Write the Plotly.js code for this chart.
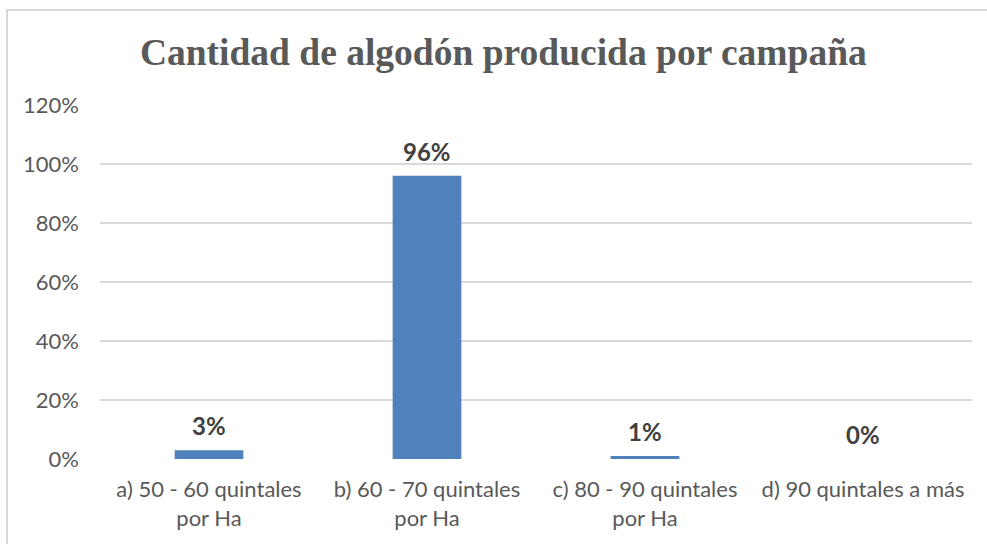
<!DOCTYPE html>
<html>
<head>
<meta charset="utf-8">
<script src="https://cdn.plot.ly/plotly-3.0.1.min.js"></script>
<style>
  html, body { margin: 0; padding: 0; background: #ffffff; }
  #frame { position: absolute; left: 6px; top: 9px; width: 1000px; height: 600px; border: 2px solid #d9d9d9; box-sizing: border-box; }
  #chart { position: absolute; left: 0; top: 0; width: 987px; height: 544px; }
</style>
</head>
<body>
<div id="frame"></div>
<div id="chart"></div>
<script>
const categories = [
  "a) 50 - 60 quintales<br>por Ha",
  "b) 60 - 70 quintales<br>por Ha",
  "c) 80 - 90 quintales<br>por Ha",
  "d) 90 quintales a más"
];
const values = [0.03, 0.96, 0.01, 0.00];
const valueLabels = ["3%", "96%", "1%", "0%"];
const yTicks = [0, 0.2, 0.4, 0.6, 0.8, 1.0, 1.2];
const yTickLabels = ["0%", "20%", "40%", "60%", "80%", "100%", "120%"];

const trace = {
  type: "bar",
  x: categories,
  y: values,
  marker: { color: "#4f81bd" },
  hoverinfo: "none",
  cliponaxis: false
};

const annotations = categories.map((c, i) => ({
  x: c,
  y: values[i],
  xref: "x",
  yref: "y",
  text: "<b>" + valueLabels[i] + "</b>",
  showarrow: false,
  yanchor: "bottom",
  yshift: 8,
  font: { family: "Lato, 'Open Sans', sans-serif", size: 24, color: "#404040" }
}));

const layout = {
  width: 987,
  height: 544,
  paper_bgcolor: "rgba(0,0,0,0)",
  plot_bgcolor: "rgba(0,0,0,0)",
  margin: { l: 100, r: 15, t: 105, b: 85 },
  showlegend: false,
  bargap: 0.685,
  title: {
    text: "<b>Cantidad de algodón producida por campaña</b>",
    font: { family: "'Liberation Serif', 'Times New Roman', serif", size: 37.5, color: "#595959" },
    x: 0.51,
    xanchor: "center",
    y: 0.905,
    yanchor: "middle",
    yref: "container"
  },
  xaxis: {
    type: "category",
    showgrid: false,
    zeroline: false,
    showline: false,
    ticks: "",
    ticklabelstandoff: 15,
    tickfont: { family: "Lato, 'Open Sans', sans-serif", size: 22, color: "#595959" },
    fixedrange: true
  },
  yaxis: {
    range: [0, 1.2],
    tickvals: yTicks,
    ticktext: yTickLabels,
    showgrid: true,
    gridcolor: "#d9d9d9",
    gridwidth: 2,
    zeroline: false,
    showline: false,
    ticks: "",
    ticklabelstandoff: 20,
    tickfont: { family: "Lato, 'Open Sans', sans-serif", size: 22, color: "#595959" },
    fixedrange: true
  },
  annotations: annotations
};

Plotly.newPlot("chart", [trace], layout, { displayModeBar: false, staticPlot: true });
</script>
</body>
</html>
